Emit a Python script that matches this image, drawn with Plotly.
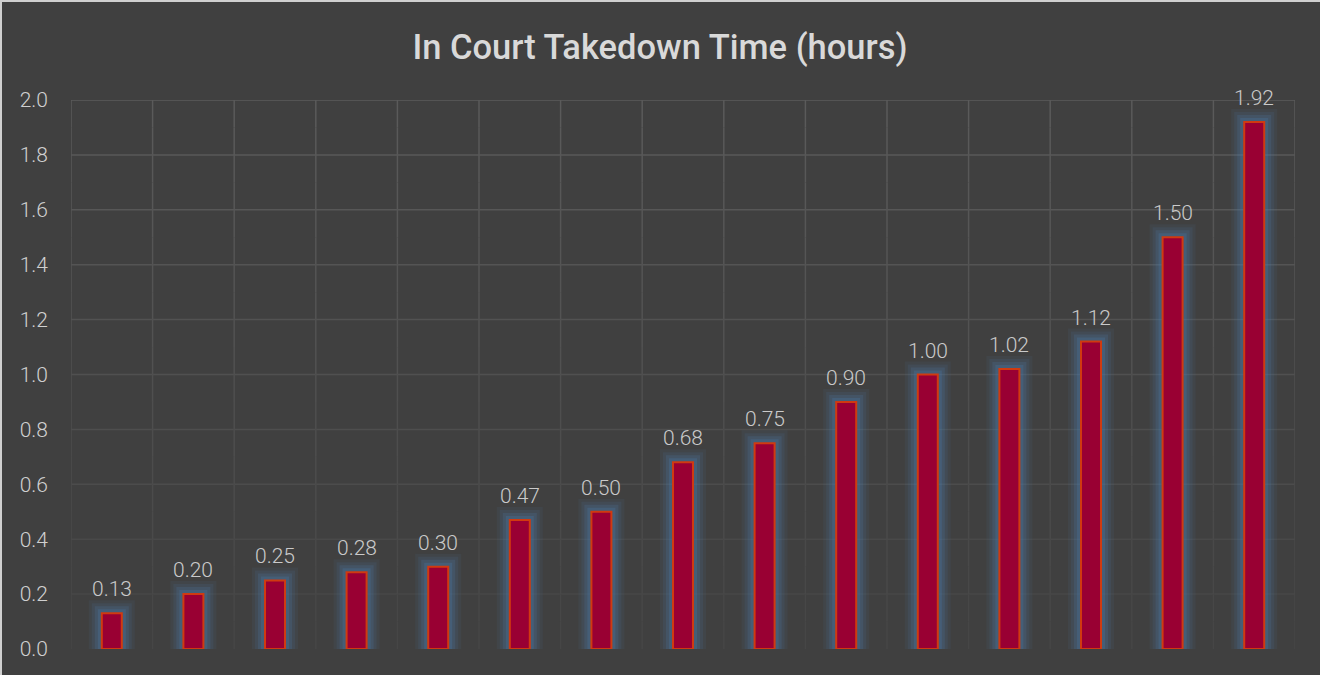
import plotly.graph_objects as go

categories = [f"C{i+1}" for i in range(15)]
values = [0.13, 0.20, 0.25, 0.28, 0.30, 0.47, 0.50, 0.68, 0.75, 0.90, 1.00, 1.02, 1.12, 1.50, 1.92]
labels = [f"{v:.2f}" for v in values]
y_ticks = [0.0, 0.2, 0.4, 0.6, 0.8, 1.0, 1.2, 1.4, 1.6, 1.8, 2.0]
y_tick_text = [f"{t:.1f}" for t in y_ticks]

BG = "#404040"
W, H = 1320, 675
ML, MR, MT, MB = 71, 25, 100, 26
BAR_W = 0.245
xpos = list(range(len(categories)))

fig = go.Figure()
# soft glow layers (outer to inner)
glow = [(26, 0.08), (20, 0.12), (14, 0.18), (8, 0.26)]
for lw, a in glow:
    col = f"rgba(75,125,175,{a})"
    fig.add_trace(go.Bar(x=xpos, y=values, width=BAR_W,
                         marker=dict(color=col, line=dict(color=col, width=lw)),
                         hoverinfo="skip", showlegend=False))
# main bars
fig.add_trace(go.Bar(x=xpos, y=values, width=BAR_W,
                     marker=dict(color="#990033", line=dict(color="#D03A10", width=2)),
                     hoverinfo="skip", showlegend=False))

def grid_col(y):
    f = y / 2.0
    c = int(round(0x45 + f * (0x5b - 0x45)))
    return f"rgb({c},{c},{c})"

shapes = []
for t in y_ticks[1:]:
    shapes.append(dict(type="line", xref="x", yref="y", x0=-0.5, x1=len(categories) - 0.5, y0=t, y1=t,
                       line=dict(color=grid_col(t), width=1.5), layer="below"))
nseg = 20
for k in range(len(categories) + 1):
    xv = k - 0.5
    for s in range(nseg):
        y0 = 2.0 * s / nseg
        y1 = 2.0 * (s + 1) / nseg
        shapes.append(dict(type="line", xref="x", yref="y", x0=xv, x1=xv, y0=y0, y1=y1,
                           line=dict(color=grid_col((y0 + y1) / 2), width=1.5), layer="below"))
plot_h = H - MT - MB
plot_w = W - ML - MR
shapes.append(dict(type="line", xref="paper", yref="paper", x0=-ML / plot_w, x1=1 + MR / plot_w,
                   y0=1 + (MT - 1) / plot_h, y1=1 + (MT - 1) / plot_h, line=dict(color="#d0d0d0", width=2)))
shapes.append(dict(type="line", xref="paper", yref="paper", x0=-(ML - 1) / plot_w, x1=-(ML - 1) / plot_w,
                   y0=-MB / plot_h, y1=1 + MT / plot_h, line=dict(color="#d0d0d0", width=2)))

annotations = []
for x, v, lab in zip(xpos, values, labels):
    annotations.append(dict(x=x, y=v, text=lab, showarrow=False, yanchor="bottom", yshift=10,
                            font=dict(family="Roboto", size=21, color="#cacaca", weight=300)))

fig.update_layout(
    width=W, height=H,
    paper_bgcolor=BG, plot_bgcolor=BG,
    margin=dict(l=ML, r=MR, t=MT, b=MB),
    barmode="overlay",
    title=dict(text="In Court Takedown Time (hours)", x=0.5, xanchor="center", y=1 - 47 / H, yanchor="middle",
               font=dict(family="Roboto", size=34.5, color="#d9d9d9", weight=500)),
    xaxis=dict(range=[-0.5, len(categories) - 0.5], showgrid=False, showticklabels=False, zeroline=False,
               showline=False, ticks=""),
    yaxis=dict(range=[0, 2.0], tickvals=y_ticks, ticktext=y_tick_text, showgrid=False, zeroline=False,
               showline=False, ticks="", ticklabelstandoff=22,
               tickfont=dict(family="Roboto", size=21, color="#d0d0d0", weight=300)),
    shapes=shapes, annotations=annotations,
)

fig.write_html("out.html", config={"displayModeBar": False},
               post_script="document.body.style.margin='0';document.body.style.overflow='hidden';"
                           "document.body.style.background='#404040';")
